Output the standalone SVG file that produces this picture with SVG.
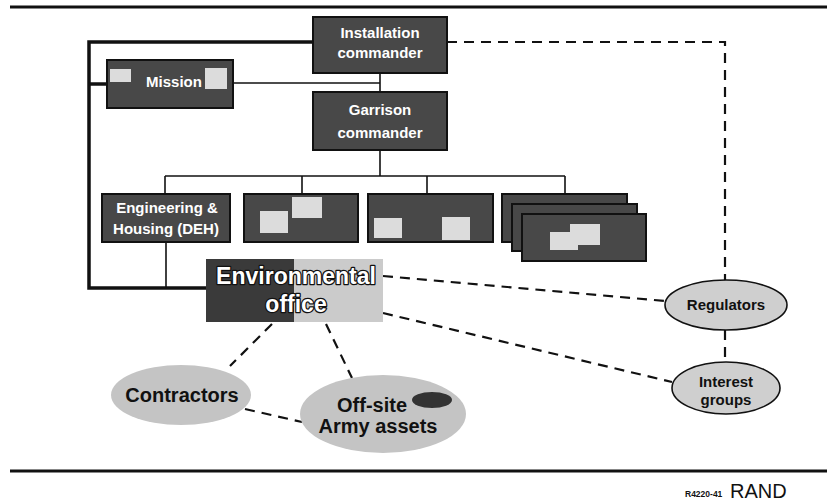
<svg xmlns="http://www.w3.org/2000/svg" width="827" height="504" viewBox="0 0 827 504">
<style>
.box{fill:#484848;stroke:#111;stroke-width:2}
.sq{fill:#dcdcdc}
.wt{font-family:"Liberation Sans",Arial,sans-serif;font-weight:bold;fill:#fff;text-anchor:middle;font-size:15px}
.big{font-size:23px;stroke:#111;stroke-width:2.5px;stroke-linejoin:round;paint-order:stroke fill}
.bt{font-family:"Liberation Sans",Arial,sans-serif;font-weight:bold;fill:#111;text-anchor:middle}
.thick{stroke:#111;stroke-width:3.5;fill:none}
.thin{stroke:#111;stroke-width:1.6;fill:none}
.dash{stroke:#111;stroke-width:2.2;fill:none;stroke-dasharray:10 7}
.oval{fill:#cfcfcf;stroke:#111;stroke-width:1.6}
.soft{fill:#c4c4c4}
</style>
<rect width="827" height="504" fill="#fff"/>
<line x1="10" y1="7" x2="827" y2="7" stroke="#111" stroke-width="3"/>
<line x1="10" y1="471" x2="827" y2="471" stroke="#111" stroke-width="3"/>
<g id="connectors">
<polyline class="thick" points="313,42 89,42 89,288 206,288"/>
<line class="thick" x1="89" y1="84" x2="107" y2="84"/>
<line class="thin" x1="233" y1="83" x2="380" y2="83"/>
<line class="thin" x1="380" y1="73" x2="380" y2="92"/>
<line class="thin" x1="380" y1="150" x2="380" y2="176"/>
<line class="thin" x1="165" y1="176" x2="565" y2="176"/>
<line class="thin" x1="165" y1="176" x2="165" y2="194"/>
<line class="thin" x1="302" y1="176" x2="302" y2="194"/>
<line class="thin" x1="427" y1="176" x2="427" y2="194"/>
<line class="thin" x1="565" y1="176" x2="565" y2="194"/>
<line class="thin" x1="166" y1="242" x2="166" y2="288"/>
<polyline class="dash" points="447,42 725,42 725,281"/>
<line class="dash" x1="725" y1="330" x2="725" y2="362"/>
<line class="dash" x1="383" y1="276" x2="665" y2="301"/>
<line class="dash" x1="383" y1="313" x2="672" y2="382"/>
<line class="dash" x1="272" y1="324" x2="230" y2="366"/>
<line class="dash" x1="326" y1="324" x2="352" y2="378"/>
<line class="dash" x1="245" y1="409" x2="302" y2="422"/>
</g>
<g id="installation">
<rect class="box" x="313" y="17" width="134" height="56"/>
<text class="wt" x="380" y="38">Installation</text>
<text class="wt" x="380" y="58">commander</text>
</g>
<g id="mission">
<rect class="box" x="107" y="60" width="126" height="48"/>
<rect class="sq" x="110" y="69" width="21" height="13"/>
<rect class="sq" x="205" y="68" width="22" height="21"/>
<text class="wt" x="174" y="87">Mission</text>
</g>
<g id="garrison">
<rect class="box" x="313" y="92" width="134" height="58"/>
<text class="wt" x="380" y="115">Garrison</text>
<text class="wt" x="380" y="138">commander</text>
</g>
<g id="engineering">
<rect class="box" x="102" y="194" width="128" height="48"/>
<text class="wt" x="167" y="213">Engineering &amp;</text>
<text class="wt" x="166" y="234">Housing (DEH)</text>
</g>
<g id="unit2">
<rect class="box" x="244" y="194" width="114" height="48"/>
<rect class="sq" x="260" y="211" width="28" height="22"/>
<rect class="sq" x="292" y="197" width="30" height="21"/>
</g>
<g id="unit3">
<rect class="box" x="368" y="194" width="125" height="48"/>
<rect class="sq" x="374" y="218" width="28" height="20"/>
<rect class="sq" x="442" y="217" width="28" height="23"/>
</g>
<g id="unitstack">
<rect class="box" x="502" y="194" width="125" height="48"/>
<rect class="box" x="512" y="204" width="125" height="47"/>
<rect class="box" x="522" y="214" width="124" height="47"/>
<rect class="sq" x="570" y="224" width="30" height="21"/>
<rect class="sq" x="550" y="232" width="28" height="18"/>
</g>
<g id="environmental">
<rect x="206" y="259" width="88" height="63" fill="#3a3a3a"/>
<rect x="294" y="259" width="89" height="63" fill="#cbcbcb"/>
<text class="wt big" x="296" y="284">Environmental</text>
<text class="wt big" x="296" y="312">office</text>
</g>
<g id="regulators">
<ellipse class="oval" cx="726" cy="305" rx="61" ry="25"/>
<text class="bt" x="726" y="310" font-size="15">Regulators</text>
</g>
<g id="interest">
<ellipse class="oval" cx="726" cy="388" rx="54" ry="26"/>
<text class="bt" x="726" y="387" font-size="15">Interest</text>
<text class="bt" x="726" y="405" font-size="15">groups</text>
</g>
<g id="contractors">
<ellipse class="soft" cx="181" cy="395" rx="70" ry="30"/>
<text class="bt" x="182" y="402" font-size="20">Contractors</text>
</g>
<g id="offsite">
<ellipse class="soft" cx="383" cy="414" rx="83" ry="39"/>
<ellipse cx="432" cy="400" rx="20" ry="8" fill="#333"/>
<text class="bt" x="372" y="412" font-size="20">Off-site</text>
<text class="bt" x="378" y="433" font-size="20">Army assets</text>
</g>
<g id="credit">
<text x="685" y="497" font-family="Liberation Sans,Arial,sans-serif" font-weight="bold" font-size="8.5" fill="#111">R4220-41</text>
<text x="730" y="498" font-family="Liberation Sans,Arial,sans-serif" font-size="20" fill="#111">RAND</text>
</g>
</svg>
